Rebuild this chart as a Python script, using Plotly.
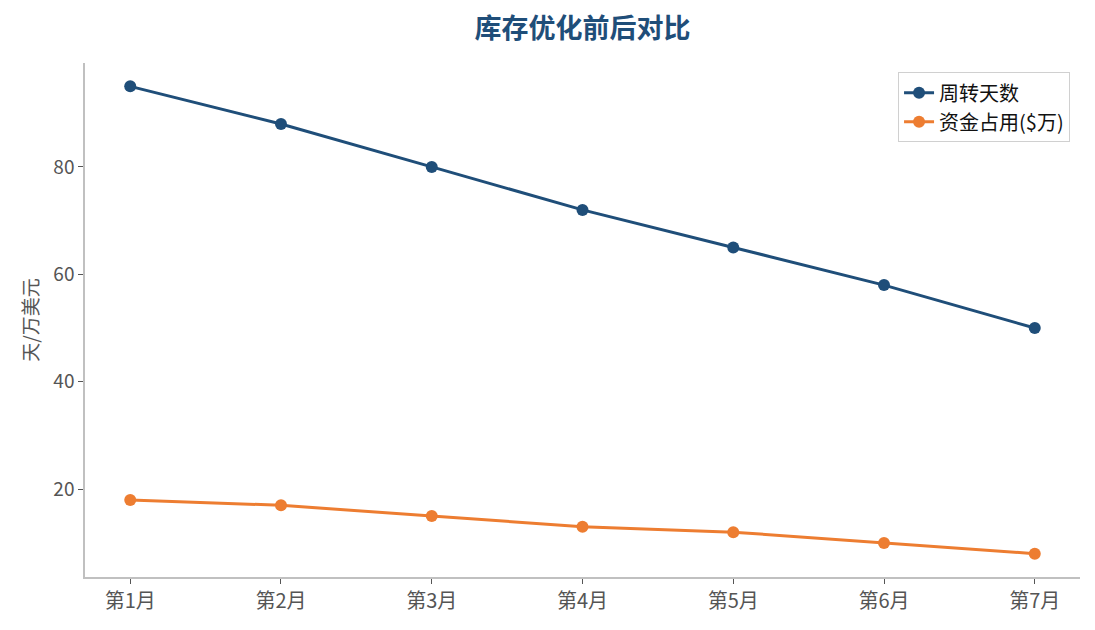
import plotly.graph_objects as go

months = ["第1月", "第2月", "第3月", "第4月", "第5月", "第6月", "第7月"]
turnover_days = [95, 88, 80, 72, 65, 58, 50]
capital_used = [18, 17, 15, 13, 12, 10, 8]
series_names = ["周转天数", "资金占用($万)"]

FONT = "Noto Sans CJK SC"
fig = go.Figure()
fig.add_trace(go.Scatter(x=months, y=turnover_days, name=series_names[0], mode="lines+markers",
                         line=dict(color="#1f4e79", width=3), marker=dict(size=12, color="#1f4e79")))
fig.add_trace(go.Scatter(x=months, y=capital_used, name=series_names[1], mode="lines+markers",
                         line=dict(color="#ed7d31", width=3), marker=dict(size=12, color="#ed7d31")))

fig.update_layout(
    width=1095, height=630,
    margin=dict(l=77, r=23, t=55, b=61),
    paper_bgcolor="white", plot_bgcolor="white",
    font=dict(family=FONT, size=19, color="#555555"),
    title=dict(text="<b>库存优化前后对比</b>", xref="paper", x=0.5, xanchor="center", y=0.968, yanchor="middle",
               font=dict(family=FONT, size=27, color="#1f4e79")),
    legend=dict(x=0.99, y=0.982, xanchor="right", yanchor="top", bordercolor="#d0d0d0", borderwidth=1,
                bgcolor="white", font=dict(family=FONT, size=20, color="#111111")),
    showlegend=True,
)
fig.update_xaxes(range=[-0.3, 6.3], showline=True, linecolor="#c0c0c0", linewidth=1.5,
                 ticks="outside", ticklen=5, tickcolor="#555555", showgrid=False, zeroline=False,
                 tickfont=dict(size=20, color="#555555"))
fig.update_yaxes(range=[3.65, 99.35], showline=True, linecolor="#c0c0c0", linewidth=1.5,
                 ticks="outside", ticklen=5, tickcolor="#555555", showgrid=False, zeroline=False,
                 tickvals=[20, 40, 60, 80], tickfont=dict(size=19, color="#555555"),
                 title=dict(text="天/万美元", font=dict(size=19, color="#555555"), standoff=10))

fig.write_html("out.html")
